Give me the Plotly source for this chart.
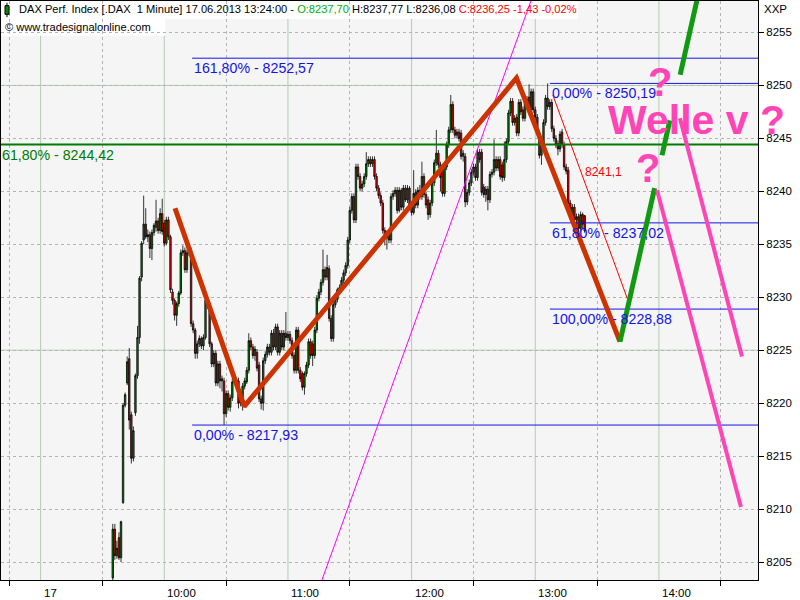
import plotly.graph_objects as go

# ---------------- data ----------------
minutes = list(range(35, 265))  # minutes after 09:00 on 17.06.2013

open_ = [
    8203.5, 8208.1, 8205.6, 8207.3, 8205.4, 8210.6, 8219.8, 8221.9, 8224.2, 8218.9,
    8214.8, 8219.1, 8222.6, 8226.2, 8231.9, 8235.4, 8236.9, 8235.7, 8235.9, 8234.6,
    8236.1, 8236.6, 8237.2, 8236.3, 8237.9, 8237.0, 8235.1, 8237.3, 8235.7, 8230.5,
    8229.7, 8228.3, 8229.4, 8230.4, 8234.2, 8234.4, 8232.6, 8234.2, 8234.4, 8227.5,
    8226.9, 8224.7, 8225.6, 8226.1, 8225.4, 8226.2, 8229.7, 8229.4, 8225.6, 8223.7,
    8224.7, 8221.9, 8223.7, 8222.1, 8222.1, 8219.0, 8220.9, 8219.6, 8220.5, 8222.0,
    8222.2, 8222.1, 8220.0, 8220.5, 8221.6, 8222.0, 8223.1, 8225.9, 8225.3, 8224.5,
    8224.8, 8223.6, 8220.4, 8220.0, 8224.0, 8224.6, 8225.3, 8224.8, 8226.6, 8225.3,
    8227.2, 8224.8, 8226.6, 8225.3, 8226.6, 8226.2, 8226.5, 8225.9, 8224.5, 8223.1,
    8226.9, 8223.1, 8222.8, 8221.5, 8222.8, 8223.6, 8225.8, 8225.6, 8224.5, 8226.9,
    8229.9, 8230.5, 8231.4, 8232.6, 8231.9, 8232.7, 8228.0, 8226.1, 8229.3, 8229.8,
    8230.7, 8230.9, 8231.6, 8232.3, 8233.0, 8235.4, 8238.2, 8239.5, 8237.3, 8242.3,
    8241.4, 8240.3, 8240.7, 8241.4, 8242.6, 8243.0, 8242.6, 8243.0, 8241.4, 8240.3,
    8239.6, 8238.9, 8236.3, 8235.6, 8236.0, 8235.4, 8239.5, 8239.8, 8240.1, 8238.2,
    8240.1, 8238.5, 8240.3, 8239.2, 8240.3, 8238.7, 8238.0, 8239.9, 8238.7, 8240.1,
    8239.5, 8241.4, 8239.7, 8239.2, 8237.8, 8238.9, 8240.8, 8242.7, 8243.6, 8242.5,
    8242.0, 8239.8, 8242.3, 8244.4, 8245.8, 8248.2, 8245.8, 8245.3, 8245.6, 8245.5,
    8243.3, 8243.3, 8239.0, 8239.9, 8240.8, 8241.8, 8242.3, 8241.3, 8243.7, 8243.7,
    8240.4, 8239.7, 8240.2, 8239.2, 8241.6, 8241.8, 8243.0, 8242.2, 8243.0, 8242.5,
    8241.3, 8243.0, 8244.7, 8247.4, 8248.5, 8246.5, 8247.0, 8245.5, 8248.4, 8247.7,
    8246.9, 8248.7, 8248.9, 8247.7, 8249.4, 8247.7, 8247.0, 8245.5, 8243.4, 8244.4,
    8246.5, 8248.8, 8248.0, 8248.4, 8245.9, 8245.0, 8244.5, 8244.0, 8245.6, 8244.4,
    8242.3, 8242.0, 8238.9, 8237.6, 8238.5, 8237.3, 8237.6, 8236.5, 8237.8, 8237.70,
]
high = [
    8208.6, 8208.6, 8207.0, 8207.8, 8208.9, 8220.0, 8221.0, 8224.4, 8225.2, 8219.2,
    8217.8, 8222.8, 8227.3, 8232.0, 8235.3, 8239.6, 8238.4, 8236.4, 8236.2, 8236.4,
    8237.0, 8239.2, 8237.5, 8238.4, 8239.3, 8237.3, 8237.6, 8237.6, 8235.9, 8230.8,
    8229.9, 8229.6, 8230.6, 8234.5, 8234.9, 8234.7, 8234.5, 8235.1, 8234.7, 8227.8,
    8227.1, 8225.9, 8226.4, 8226.3, 8226.5, 8230.2, 8230.0, 8229.6, 8225.8, 8225.0,
    8225.0, 8224.0, 8224.0, 8222.6, 8222.4, 8221.2, 8221.2, 8220.8, 8222.3, 8222.4,
    8222.4, 8222.4, 8221.3, 8221.9, 8222.4, 8223.4, 8226.6, 8226.2, 8225.6, 8225.4,
    8225.1, 8223.9, 8220.7, 8224.3, 8224.9, 8225.6, 8225.6, 8226.9, 8227.0, 8227.5,
    8227.5, 8226.9, 8226.9, 8226.9, 8228.6, 8226.8, 8226.8, 8226.2, 8224.8, 8227.2,
    8227.2, 8223.4, 8223.0, 8223.0, 8223.9, 8226.1, 8226.1, 8225.9, 8227.2, 8230.2,
    8230.8, 8231.7, 8234.5, 8232.9, 8234.0, 8233.0, 8228.3, 8229.6, 8230.1, 8230.9,
    8231.2, 8231.9, 8232.6, 8233.3, 8235.7, 8238.5, 8239.8, 8239.8, 8242.6, 8242.6,
    8241.7, 8241.0, 8241.7, 8243.7, 8243.3, 8243.3, 8243.3, 8243.3, 8241.7, 8240.6,
    8239.9, 8239.2, 8236.6, 8236.3, 8236.3, 8239.8, 8240.1, 8240.4, 8240.4, 8240.4,
    8240.3, 8240.6, 8240.6, 8240.6, 8240.5, 8239.0, 8242.0, 8240.2, 8240.4, 8240.6,
    8242.8, 8241.7, 8240.0, 8239.5, 8239.2, 8241.1, 8243.0, 8245.8, 8243.9, 8242.8,
    8242.3, 8242.6, 8244.7, 8246.1, 8249.1, 8248.5, 8246.1, 8245.9, 8245.9, 8245.8,
    8243.9, 8243.6, 8240.2, 8241.1, 8242.1, 8242.6, 8242.6, 8244.0, 8244.0, 8244.0,
    8240.7, 8240.5, 8240.5, 8241.9, 8242.1, 8244.9, 8243.3, 8243.3, 8243.3, 8242.8,
    8244.7, 8245.0, 8247.7, 8248.8, 8248.8, 8247.2, 8247.3, 8248.7, 8248.7, 8248.0,
    8249.0, 8249.0, 8250.1, 8249.7, 8249.7, 8248.0, 8247.3, 8245.8, 8244.7, 8246.8,
    8249.1, 8250.19, 8248.7, 8248.7, 8246.2, 8245.3, 8244.8, 8245.7, 8245.9, 8244.7,
    8242.6, 8242.3, 8239.2, 8238.8, 8238.8, 8237.9, 8237.9, 8238.1, 8238.0, 8237.77,
]
low = [
    8202.0, 8205.2, 8205.3, 8205.2, 8205.0, 8210.5, 8219.6, 8221.7, 8217.5, 8214.3,
    8214.5, 8218.8, 8222.3, 8225.6, 8231.5, 8235.0, 8235.5, 8235.2, 8233.7, 8233.5,
    8235.8, 8236.2, 8236.0, 8236.0, 8235.9, 8234.8, 8234.9, 8235.4, 8230.4, 8229.3,
    8227.8, 8227.3, 8229.1, 8230.2, 8233.9, 8232.3, 8232.3, 8233.9, 8227.2, 8226.6,
    8224.2, 8224.2, 8225.3, 8225.1, 8225.0, 8226.0, 8228.9, 8225.3, 8223.4, 8223.4,
    8221.6, 8221.6, 8221.4, 8221.1, 8217.93, 8218.7, 8219.3, 8219.2, 8220.2, 8221.8,
    8221.5, 8219.5, 8219.7, 8219.3, 8221.3, 8221.8, 8222.8, 8225.0, 8224.2, 8224.0,
    8223.0, 8220.1, 8219.4, 8219.3, 8223.7, 8224.3, 8224.5, 8224.5, 8225.0, 8225.0,
    8224.5, 8224.5, 8225.0, 8225.0, 8225.9, 8225.9, 8225.6, 8224.2, 8222.8, 8222.8,
    8222.8, 8222.0, 8221.2, 8220.8, 8222.5, 8223.3, 8224.2, 8223.5, 8224.2, 8226.6,
    8229.6, 8230.2, 8231.1, 8231.6, 8231.6, 8227.7, 8225.8, 8225.8, 8229.0, 8229.5,
    8230.4, 8230.6, 8231.3, 8232.0, 8232.7, 8235.1, 8237.9, 8237.0, 8237.0, 8241.1,
    8240.0, 8240.0, 8240.4, 8241.1, 8242.3, 8242.3, 8242.3, 8241.1, 8240.0, 8239.3,
    8238.6, 8236.0, 8234.9, 8234.5, 8235.1, 8235.1, 8239.2, 8239.5, 8237.9, 8238.0,
    8238.2, 8238.2, 8239.0, 8238.9, 8238.4, 8237.7, 8237.8, 8238.4, 8238.4, 8239.2,
    8239.2, 8239.4, 8238.4, 8237.3, 8237.5, 8238.6, 8240.5, 8242.4, 8242.2, 8240.0,
    8239.5, 8239.5, 8242.0, 8244.1, 8245.5, 8245.5, 8245.0, 8245.0, 8244.7, 8243.0,
    8242.8, 8238.5, 8238.7, 8239.6, 8240.5, 8241.5, 8241.0, 8241.0, 8242.7, 8239.6,
    8239.4, 8239.0, 8238.2, 8238.9, 8241.3, 8241.5, 8241.9, 8241.9, 8241.1, 8240.9,
    8241.0, 8242.7, 8244.4, 8247.1, 8246.2, 8246.2, 8245.2, 8245.2, 8247.2, 8246.6,
    8246.6, 8247.9, 8247.4, 8247.4, 8247.4, 8246.7, 8245.2, 8243.1, 8242.5, 8244.1,
    8246.2, 8247.7, 8247.7, 8245.6, 8244.7, 8244.1, 8243.4, 8243.7, 8244.1, 8242.0,
    8241.6, 8238.6, 8237.3, 8237.3, 8237.0, 8236.5, 8236.2, 8236.2, 8236.5, 8236.08,
]
close = [
    8208.1, 8205.6, 8206.3, 8205.4, 8208.8, 8219.8, 8220.8, 8223.9, 8218.4, 8214.8,
    8217.4, 8222.6, 8226.2, 8231.8, 8235.1, 8236.9, 8235.7, 8235.9, 8234.6, 8236.1,
    8236.8, 8237.2, 8236.3, 8237.9, 8236.2, 8235.1, 8237.3, 8235.7, 8230.7, 8229.7,
    8228.3, 8229.4, 8230.4, 8234.2, 8234.4, 8232.6, 8234.2, 8234.4, 8227.5, 8226.9,
    8224.7, 8225.6, 8226.1, 8225.4, 8226.2, 8229.7, 8229.2, 8225.6, 8223.7, 8224.7,
    8221.9, 8223.7, 8222.1, 8222.3, 8219.0, 8220.9, 8219.6, 8220.5, 8222.0, 8222.2,
    8221.9, 8220.0, 8221.0, 8221.6, 8222.1, 8223.1, 8225.9, 8225.3, 8224.5, 8225.1,
    8223.3, 8220.4, 8220.0, 8224.0, 8224.6, 8225.3, 8224.8, 8226.6, 8225.3, 8227.2,
    8224.8, 8226.6, 8225.3, 8226.6, 8226.2, 8226.5, 8225.9, 8224.5, 8223.1, 8226.9,
    8223.1, 8222.3, 8221.5, 8222.8, 8223.6, 8225.8, 8224.5, 8224.5, 8226.9, 8229.9,
    8230.5, 8231.4, 8232.6, 8231.9, 8232.8, 8228.0, 8226.1, 8229.3, 8229.8, 8230.7,
    8230.9, 8231.6, 8232.3, 8233.0, 8235.4, 8238.2, 8239.5, 8237.3, 8242.3, 8241.4,
    8240.3, 8240.7, 8241.4, 8242.6, 8243.0, 8242.6, 8243.0, 8241.4, 8240.3, 8239.6,
    8238.9, 8236.3, 8235.6, 8236.0, 8235.4, 8239.5, 8239.8, 8240.1, 8238.2, 8240.1,
    8238.5, 8240.3, 8239.2, 8240.3, 8238.7, 8238.0, 8239.8, 8238.7, 8240.1, 8239.5,
    8241.4, 8239.7, 8238.7, 8237.8, 8238.9, 8240.8, 8242.7, 8243.6, 8242.5, 8241.3,
    8239.8, 8242.3, 8244.4, 8245.8, 8248.2, 8245.8, 8245.3, 8245.6, 8245.0, 8243.3,
    8243.6, 8239.0, 8239.9, 8240.8, 8241.8, 8242.3, 8241.3, 8243.7, 8243.0, 8239.9,
    8239.7, 8240.2, 8239.2, 8241.6, 8241.8, 8243.0, 8242.2, 8243.0, 8241.4, 8241.3,
    8243.0, 8244.7, 8247.4, 8248.5, 8246.5, 8246.9, 8245.5, 8248.4, 8247.5, 8246.9,
    8248.7, 8248.2, 8247.7, 8249.4, 8247.7, 8247.0, 8245.5, 8243.4, 8244.4, 8246.5,
    8248.8, 8248.0, 8248.4, 8245.9, 8245.0, 8244.4, 8244.0, 8245.4, 8244.4, 8242.3,
    8241.9, 8238.9, 8237.6, 8238.5, 8237.3, 8237.6, 8236.5, 8237.8, 8236.9, 8236.25,
]
assert len(open_) == len(high) == len(low) == len(close) == len(minutes)

price_ticks = [8205, 8210, 8215, 8220, 8225, 8230, 8235, 8240, 8245, 8250, 8255]
major_price_lines = [8225, 8250]
hour_ticks = [0, 60, 120, 180, 240, 300]
hour_labels = ["17", "10:00", "11:00", "12:00", "13:00", "14:00"]
half_hour_ticks = [-15, 30, 90, 150, 210, 270, 330]

# drawings (time in minutes after 09:00, price); None = gap behind the texts
wave_t = [65.2, 98.8, 230.9, 281.1]
wave_p = [8238.4, 8219.7, 8250.7, 8225.8]
green_t = [281.1, 297.9, None, 301.5, 305.3, None, 310.3, 325.0]
green_p = [8225.8, 8240.3, None, 8243.4, 8246.7, None, 8251.0, 8263.7]
pink_a_t = [310.2, 340.3]
pink_a_p = [8246.9, 8224.4]
pink_b_t = [299.1, 339.8]
pink_b_p = [8240.1, 8210.2]
magenta_t = [130.0, 245.0]
magenta_p = [8199.8, 8261.8]
red_t = [248.5, 285.0]
red_p = [8249.1, 8229.7]
red_label = "8241,1"
red_label_t, red_label_p = 263.2, 8241.8

fib1_start = 73.5
fib1_levels = [8252.57, 8217.93]
fib1_labels = ["161,80% - 8252,57", "0,00% - 8217,93"]
fib2_start = 247.1
fib2_levels = [8250.19, 8237.02, 8228.88]
fib2_labels = ["0,00% - 8250,19", "61,80% - 8237,02", "100,00% - 8228,88"]
green_level = 8244.42
green_label = "61,80% - 8244,42"

X0, X1 = -19.23, 348.07
Y0, Y1 = 8203.30, 8257.97

FONT = "Tahoma, 'Liberation Sans', Arial, sans-serif"
PINK = "#ff45b5"
BLUE = "#1414e6"

fig = go.Figure()

for lv in fib1_levels:
    fig.add_trace(go.Scatter(x=[fib1_start, X1], y=[lv, lv], mode="lines",
                             line=dict(color=BLUE, width=1), hoverinfo="skip", showlegend=False))
for lv in fib2_levels:
    fig.add_trace(go.Scatter(x=[fib2_start, X1], y=[lv, lv], mode="lines",
                             line=dict(color=BLUE, width=1), hoverinfo="skip", showlegend=False))
fig.add_trace(go.Scatter(x=[X0, X1], y=[green_level, green_level], mode="lines",
                         line=dict(color="#007a00", width=2), hoverinfo="skip", showlegend=False))

fig.add_trace(go.Candlestick(
    x=minutes, open=open_, high=high, low=low, close=close,
    increasing=dict(line=dict(color="black", width=0.8), fillcolor="#008a00"),
    decreasing=dict(line=dict(color="black", width=0.8), fillcolor="#ff0000"),
    whiskerwidth=0, hoverinfo="skip", showlegend=False))

fig.add_trace(go.Scatter(x=magenta_t, y=magenta_p, mode="lines",
                         line=dict(color="#ff00ff", width=1), hoverinfo="skip", showlegend=False))
fig.add_trace(go.Scatter(x=red_t, y=red_p, mode="lines",
                         line=dict(color="#ff0000", width=1), hoverinfo="skip", showlegend=False))
fig.add_trace(go.Scatter(x=wave_t, y=wave_p, mode="lines",
                         line=dict(color="#cc3300", width=5), hoverinfo="skip", showlegend=False))
fig.add_trace(go.Scatter(x=green_t, y=green_p, mode="lines", connectgaps=False,
                         line=dict(color="#129912", width=5), hoverinfo="skip", showlegend=False))
fig.add_trace(go.Scatter(x=pink_a_t, y=pink_a_p, mode="lines",
                         line=dict(color=PINK, width=4), hoverinfo="skip", showlegend=False))
fig.add_trace(go.Scatter(x=pink_b_t, y=pink_b_p, mode="lines",
                         line=dict(color=PINK, width=4), hoverinfo="skip", showlegend=False))

ann = []
for lv, lab in zip(fib1_levels, fib1_labels):
    ann.append(dict(x=fib1_start, y=lv, xref="x", yref="y", text=lab, showarrow=False,
                    xanchor="left", yanchor="top", xshift=0, yshift=0,
                    font=dict(family=FONT, size=14.2, color=BLUE)))
for lv, lab in zip(fib2_levels, fib2_labels):
    ann.append(dict(x=fib2_start, y=lv, xref="x", yref="y", text=lab, showarrow=False,
                    xanchor="left", yanchor="top", xshift=0, yshift=0,
                    font=dict(family=FONT, size=14.2, color=BLUE)))
ann.append(dict(x=0, y=green_level, xref="paper", yref="y", text=green_label, showarrow=False,
                xanchor="left", yanchor="top", xshift=-1, yshift=0,
                font=dict(family=FONT, size=14.2, color="#007a00")))
ann.append(dict(x=red_label_t, y=red_label_p, xref="x", yref="y", text=red_label, showarrow=False,
                xanchor="left", yanchor="middle",
                font=dict(family=FONT, size=12, color="#ff0000")))
ann.append(dict(x=318.2, y=8246.7, xref="x", yref="y", text="<b>Welle v ?</b>", showarrow=False,
                xanchor="center", yanchor="middle",
                font=dict(family="Liberation Sans, Arial, sans-serif", size=41, color=PINK)))
ann.append(dict(x=300.6, y=8250.3, xref="x", yref="y", text="<b>?</b>", showarrow=False,
                xanchor="center", yanchor="middle",
                font=dict(family="Liberation Sans, Arial, sans-serif", size=40, color=PINK)))
ann.append(dict(x=294.7, y=8242.2, xref="x", yref="y", text="<b>?</b>", showarrow=False,
                xanchor="center", yanchor="middle",
                font=dict(family="Liberation Sans, Arial, sans-serif", size=40, color=PINK)))
for hv, hl in zip(hour_ticks, hour_labels):
    ann.append(dict(x=hv, y=0, xref="x", yref="paper", text=hl, showarrow=False,
                    xanchor="left", yanchor="top", xshift=1, yshift=-5,
                    font=dict(family=FONT, size=11.5, color="black")))
ann.append(dict(x=1.0, y=1.0, xref="paper", yref="paper", text="XXP", showarrow=False,
                xanchor="left", yanchor="top", xshift=4, yshift=0,
                font=dict(family=FONT, size=11.5, color="black")))
header = ("DAX Perf. Index [.DAX&nbsp;&nbsp;1 Minute] 17.06.2013 13:24:00 - "
          "<span style='color:#00b000'>O:8237,70</span> H:8237,77 L:8236,08 "
          "<span style='color:#ff0000'>C:8236,25 -1,43 -0,02%</span>")
ann.append(dict(x=0.021, y=0.9862, xref="paper", yref="paper", text=header, showarrow=False,
                xanchor="left", yanchor="middle",
                font=dict(family=FONT, size=11.1, color="black")))
ann.append(dict(x=0.003, y=0.955, xref="paper", yref="paper", text="© www.tradesignalonline.com",
                showarrow=False, xanchor="left", yanchor="middle",
                font=dict(family=FONT, size=11.1, color="black")))

shapes = []
for hv in hour_ticks:
    shapes.append(dict(type="line", xref="x", yref="paper", x0=hv, x1=hv, y0=0, y1=1,
                       line=dict(color="#b6cab6", width=1), layer="between"))
for pv in major_price_lines:
    shapes.append(dict(type="line", xref="paper", yref="y", x0=0, x1=1, y0=pv, y1=pv,
                       line=dict(color="#b6cab6", width=1), layer="between"))
shapes.append(dict(type="rect", xref="paper", yref="paper", x0=0, x1=0.762, y0=0.969, y1=1,
                   fillcolor="white", line=dict(width=0), layer="below"))
shapes.append(dict(type="rect", xref="paper", yref="paper", x0=0, x1=0.217, y0=0.94, y1=0.969,
                   fillcolor="white", line=dict(width=0), layer="below"))
shapes.append(dict(type="line", xref="paper", yref="paper", x0=0.0079, x1=0.0079, y0=0.972, y1=0.997,
                   line=dict(color="black", width=1), layer="above"))
shapes.append(dict(type="rect", xref="paper", yref="paper", x0=0.0053, x1=0.0106, y0=0.977, y1=0.992,
                   fillcolor="#008a00", line=dict(color="black", width=1), layer="above"))

fig.update_layout(
    width=800, height=600,
    margin=dict(l=1, r=42, t=1, b=20),
    paper_bgcolor="white", plot_bgcolor="#f5f5f5",
    boxgap=0.0,
    annotations=ann, shapes=shapes,
    xaxis=dict(range=[X0, X1], rangeslider=dict(visible=False), tickmode="array",
               tickvals=half_hour_ticks, showticklabels=False, ticks="outside", ticklen=5,
               tickcolor="black", showgrid=True, gridcolor="#b4b4b4", griddash="dot",
               gridwidth=1, showline=True, linecolor="black", mirror=True, zeroline=False),
    yaxis=dict(range=[Y0, Y1], side="right", tickmode="array", tickvals=price_ticks,
               ticks="outside", ticklen=5, tickcolor="black", showgrid=True,
               gridcolor="#b4b4b4", griddash="dot", gridwidth=1, showline=True,
               linecolor="black", mirror=True, zeroline=False,
               tickfont=dict(family=FONT, size=11.5, color="black")),
)

fig.write_html("out.html", config={"displayModeBar": False},
               post_script="document.body.style.margin='0';")
